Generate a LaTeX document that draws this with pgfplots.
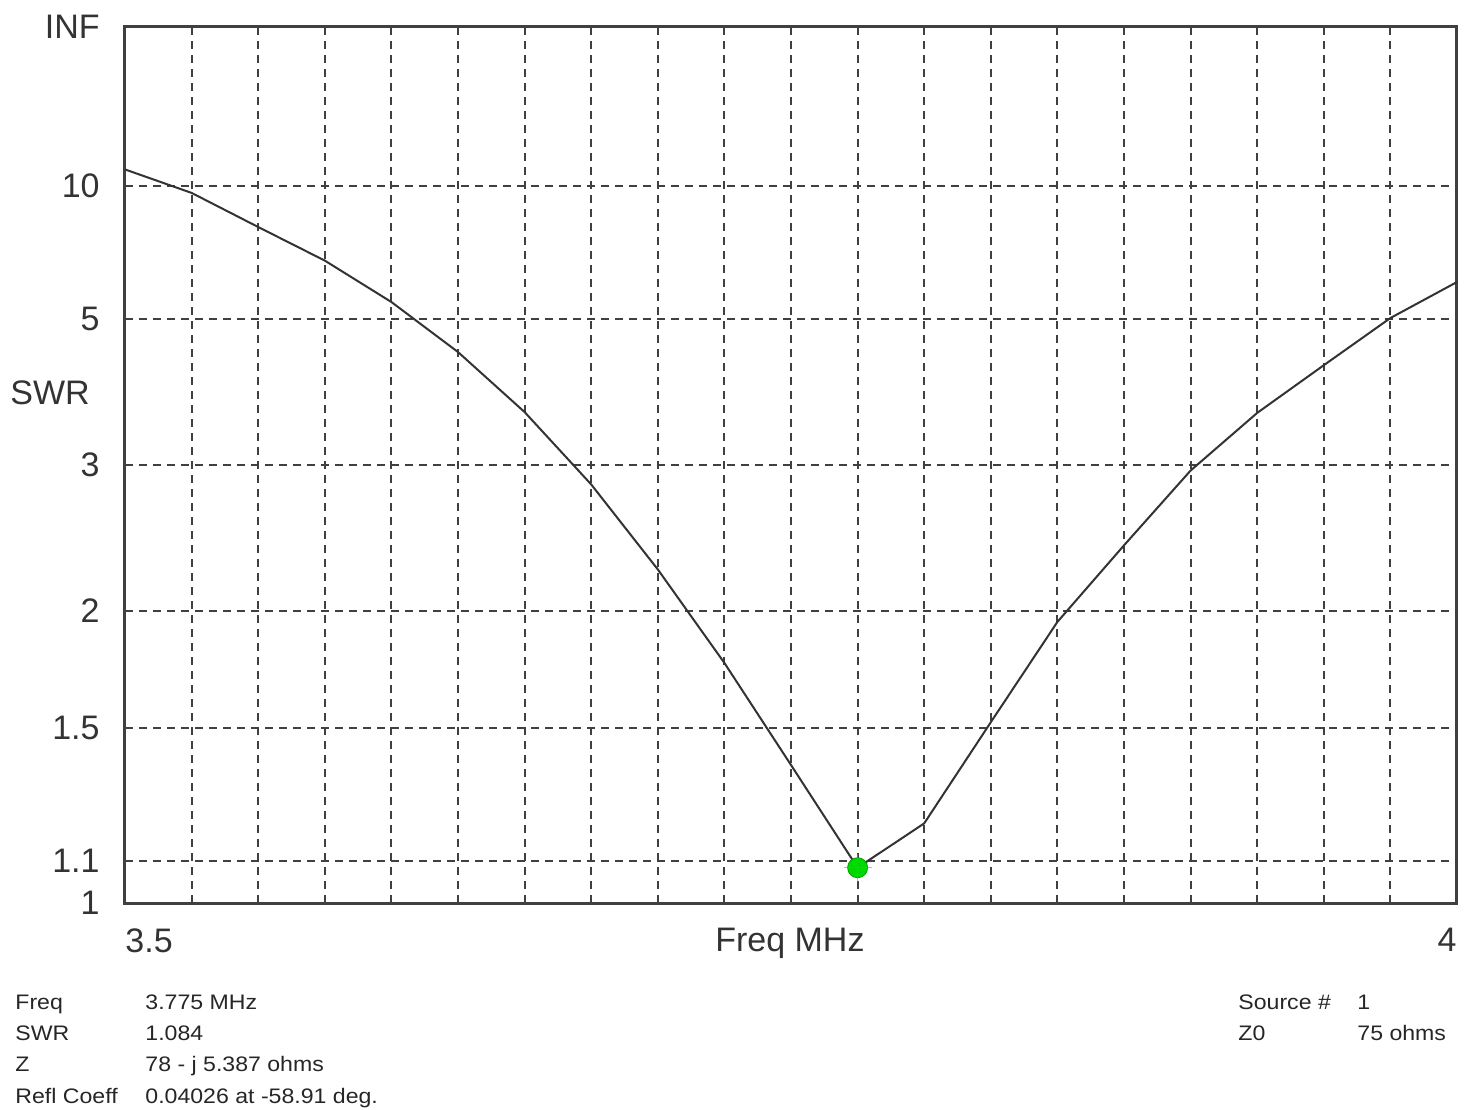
\documentclass[border=0pt]{standalone}
\usepackage{fontspec}
\setmainfont{Liberation Sans}
\usepackage{pgfplots}
\usepackage{pgfplotstable}
\pgfplotsset{compat=1.18}
\pgfplotstableread{
freq swr
3.500 11.3
3.525 9.56
3.550 7.76
3.575 6.50
3.600 5.37
3.625 4.39
3.650 3.55
3.675 2.83
3.700 2.23
3.725 1.755
3.750 1.374
3.775 1.084
3.800 1.20
3.825 1.52
3.850 1.945
3.875 2.38
3.900 2.95
3.925 3.54
3.950 4.18
3.975 5.02
4.000 5.87
}\swrdata
\pgfplotstableread{
freq swr
3.775 1.084
}\mindata
\begin{document}
\begin{tikzpicture}
\useasboundingbox (-62.5pt,-103pt) rectangle (674pt,451.5pt);
\begin{axis}[
  at={(0,0)}, anchor=south west,
  scale only axis, width=666pt, height=438pt,
  xmin=3.5, xmax=4, ymin=0, ymax=1,
  clip=false,
  axis line style={line width=1.5pt, black!75},
  xtick={3.5}, xticklabels={3.5},
  extra x ticks={4}, extra x tick labels={4},
  extra x tick style={xticklabel style={anchor=north east}},
  xticklabel style={anchor=north west, inner sep=0pt, yshift=-12.5pt},
  minor xtick={3.525,3.55,3.575,3.6,3.625,3.65,3.675,3.7,3.725,3.75,3.775,3.8,3.825,3.85,3.875,3.9,3.925,3.95,3.975},
  ytick={0,0.047619,0.2,0.333333,0.5,0.666667,0.818182,1},
  yticklabels={1,1.1,1.5,2,3,5,10,INF},
  yticklabel style={anchor=east, inner sep=0pt, xshift=-12.5pt},
  major tick length=0pt, minor tick length=0pt,
  ymajorgrids, xminorgrids,
  major grid style={dash pattern=on 4pt off 3pt, line width=1pt, black!75},
  minor grid style={dash pattern=on 4pt off 3pt, line width=1pt, black!75},
  every tick label/.append style={font=\fontsize{17}{20}\selectfont, text=black!80},
  /pgf/number format/assume math mode=true,
]
\addplot[line width=1pt, black!80] table[x=freq, y expr={(\thisrow{swr}-1)/(\thisrow{swr}+1)}] {\swrdata};
\addplot[only marks, mark=*, mark size=5pt, draw=green!60!black, fill=green!85!black] table[x=freq, y expr={(\thisrow{swr}-1)/(\thisrow{swr}+1)}] {\mindata};
\addplot[only marks, mark=+, mark size=7pt, magenta!70, line width=0.6pt, opacity=0.6] table[x=freq, y expr={(\thisrow{swr}-1)/(\thisrow{swr}+1)}] {\mindata};
\node[font=\fontsize{17}{20}\selectfont, text=black!80] at (rel axis cs:-0.0563,0.582) {SWR};
\node[font=\fontsize{17}{20}\selectfont, text=black!80, anchor=north, inner sep=0pt] at (rel axis cs:0.4992,0) [yshift=-12.5pt] {Freq MHz};
\end{axis}
\begin{scope}[every node/.style={anchor=base west, inner sep=0pt, xscale=1.1, font=\fontsize{10.5}{12}\selectfont, text=black!85}]
\node at (-55pt,-53.25pt) {Freq};
\node at (10pt,-53.25pt) {3.775 MHz};
\node at (-55pt,-68.75pt) {SWR};
\node at (10pt,-68.75pt) {1.084};
\node at (-55pt,-84.25pt) {Z};
\node at (10pt,-84.25pt) {78 - j 5.387 ohms};
\node at (-55pt,-100.25pt) {Refl Coeff};
\node at (10pt,-100.25pt) {0.04026 at -58.91 deg.};
\node at (556.5pt,-53.25pt) {Source \#};
\node at (616pt,-53.25pt) {1};
\node at (556.5pt,-68.75pt) {Z0};
\node at (616pt,-68.75pt) {75 ohms};
\end{scope}
\end{tikzpicture}
\end{document}
